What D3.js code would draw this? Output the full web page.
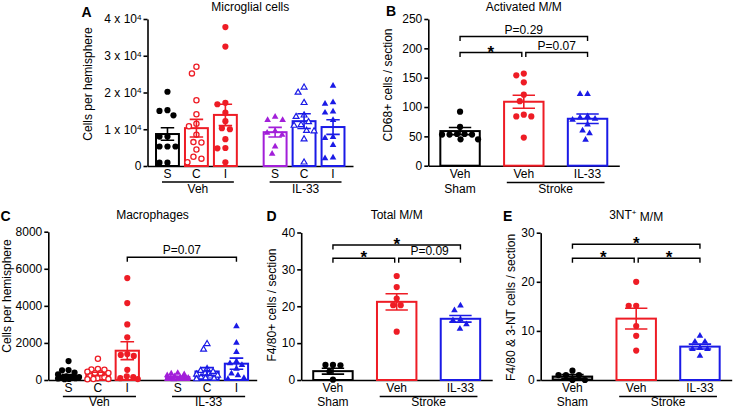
<!DOCTYPE html>
<html><head><meta charset="utf-8">
<script src="https://cdn.jsdelivr.net/npm/d3@7"></script>
<style>body{margin:0;background:#fff}</style>
</head><body>
<svg id="chart" width="734" height="408"></svg>
<script>
// ---------------- DATA ----------------
// Panel A: Microglial cells (cells per hemisphere)
const microGroups = ["Veh", "IL-33"];
const microSubs = ["S", "C", "I"];
const microMean = [8700, 10300, 13900, 9200, 12200, 10600];
const microSem  = [1700, 2400, 2900, 1300, 2000, 2000];
const microVehS = [20200, 15200, 15000, 13800, 8000, 8000, 5300, 5300, 5300, 900, 900];
const microVehC = [27000, 25200, 17900, 14100, 11500, 10800, 8500, 6500, 6400, 4500, 2500, 2000, 1000];
const microVehI = [37800, 32500, 17200, 16800, 14500, 12200, 10300, 10000, 7300, 4900, 4800, 1000];
const microIlS  = [13400, 12500, 12500, 9500, 9000, 8500, 5300, 3300];
const microIlC  = [21400, 20000, 17200, 13800, 13400, 12000, 11200, 11000, 9600, 9500, 7300, 1000];
const microIlI  = [21800, 17300, 16900, 14800, 14500, 12500, 7900, 7600, 5700, 2300, 2100];
const microTicks = [0, 10000, 20000, 30000, 40000];

// Panel B: Activated M/M (CD68+ cells / section)
const treatCats = ["Veh", "Veh", "IL-33"];
const condCats = ["Sham", "Stroke"];
const actMean = [59, 109, 80];
const actSem  = [6, 11, 8];
const actShamVeh   = [92, 66, 54, 54, 53, 53, 53, 45, 45];
const actStrokeVeh = [157, 154, 142, 121, 110, 87, 84, 84, 48];
const actStrokeIl  = [122, 122, 84, 82, 80, 78, 70, 60, 55, 44];
const actTicks = [0, 50, 100, 150, 200, 250];

// Panel C: Macrophages (cells per hemisphere)
const macMean = [210, 330, 1580, 160, 460, 880];
const macSem  = [80, 90, 480, 40, 210, 300];
const macVehS = [1020, 540, 520, 400, 300, 200, 160, 150, 130, 100, 80, 60, 40];
const macVehC = [1150, 600, 570, 550, 450, 380, 370, 360, 200, 150, 100, 60, 50, 40];
const macVehI = [5500, 4150, 3000, 2300, 1400, 1350, 1300, 550, 200, 150, 100, 50];
const macIlS  = [380, 350, 300, 250, 200, 150, 120, 100, 80, 60, 50, 40];
const macIlC  = [1950, 1650, 600, 500, 450, 350, 300, 250, 200, 150, 100, 80, 50];
const macIlI  = [2900, 2000, 1500, 1000, 900, 800, 600, 350, 250, 100, 50];
const macTicks = [0, 2000, 4000, 6000, 8000];

// Panel D: Total M/M (F4/80+ cells / section)
const totMean = [2.4, 21.2, 16.6];
const totSem  = [0.8, 2.2, 0.9];
const totShamVeh   = [4.1, 4.1, 4.0, 2.3, 0.1];
const totStrokeVeh = [28.2, 25.2, 22.1, 20.3, 20.3, 13.1];
const totStrokeIl  = [20.2, 18.9, 16.4, 16.2, 15.1, 13.9];
const totTicks = [0, 10, 20, 30, 40];

// Panel E: 3NT+ M/M (F4/80 & 3-NT cells / section)
const ntMean = [0.7, 12.5, 6.8];
const ntSem  = [0.4, 2.1, 0.5];
const ntShamVeh   = [1.9, 1.0, 1.0, 1.0, 0, 0];
const ntStrokeVeh = [20, 15.1, 15.1, 11, 9, 6];
const ntStrokeIl  = [9.0, 7.8, 7.8, 6.5, 6.3, 6.3, 4.9];
const ntTicks = [0, 10, 20, 30];

// ---------------- STYLE ----------------
const FONT = "'Liberation Sans', Arial, Helvetica, sans-serif";
const BLACK = "#000000", RED = "#ee1c25", BLUE = "#1a1ae6", PURPLE = "#a21fd9";
const svg = d3.select("#chart").attr("font-family", FONT);

// ---------------- HELPERS ----------------
function swarm(vals, y, d, lim) {
  const placed = [];
  const cands = [0];
  for (let o = 0.5; o <= lim + 1e-6; o += 0.5) { cands.push(-o, o); }
  const items = vals.map(v => ({ v, py: y(v) })).sort((a, b) => b.v - a.v);
  items.forEach(it => {
    let best = null, bestScore = -1;
    for (const c of cands) {
      let minD = Infinity;
      for (const p of placed) {
        const dd = Math.hypot(p.dx - c, p.py - it.py);
        if (dd < minD) minD = dd;
      }
      if (minD >= d) { best = c; bestScore = Infinity; break; }
      if (minD > bestScore) { bestScore = minD; best = c; }
    }
    it.dx = best;
    placed.push(it);
  });
  return items;
}

function drawMarker(g, mk, color, x, y) {
  if (mk === "circle") {
    g.append("circle").attr("cx", x).attr("cy", y).attr("r", 3.1).attr("fill", color);
  } else if (mk === "ocircle") {
    g.append("circle").attr("cx", x).attr("cy", y).attr("r", 2.6)
      .attr("fill", "#fff").attr("stroke", color).attr("stroke-width", 1.3);
  } else if (mk === "tri") {
    g.append("path").attr("d", d3.symbol().type(d3.symbolTriangle).size(19)())
      .attr("transform", `translate(${x},${y})`).attr("fill", color);
  } else {
    g.append("path").attr("d", d3.symbol().type(d3.symbolTriangle).size(15)())
      .attr("transform", `translate(${x},${y})`).attr("fill", "#fff")
      .attr("stroke", color).attr("stroke-width", 1.2);
  }
}

function drawSeries(g, s, cx, bw, y, d) {
  const y0 = y(0);
  g.append("rect")
    .attr("x", cx - bw / 2 + 1).attr("y", y(s.mean))
    .attr("width", bw - 2).attr("height", y0 - y(s.mean))
    .attr("fill", s.fill || "#fff").attr("stroke", s.color).attr("stroke-width", 2);
  const pts = swarm(s.pts, y, d, bw / 2 - 2);
  pts.forEach(p => drawMarker(g, s.mk, s.color, cx + p.dx, p.py));
  const cw = bw * 0.27;
  g.append("path")
    .attr("d", `M${cx - cw},${y(s.mean + s.sem)}H${cx + cw}M${cx},${y(s.mean + s.sem)}V${y(s.mean - s.sem)}M${cx - cw},${y(s.mean - s.sem)}H${cx + cw}`)
    .attr("fill", "none").attr("stroke", s.color).attr("stroke-width", 1.6);
}

function axes(g, L, y, fmt) {
  const ax = g.append("g").attr("transform", `translate(${L.x0},0)`)
    .call(d3.axisLeft(y).tickValues(L.ticks).tickSize(4).tickSizeOuter(0).tickPadding(2).tickFormat(fmt));
  ax.attr("font-family", FONT).attr("font-size", 12);
  ax.select(".domain").attr("stroke-width", 1.6);
  ax.selectAll(".tick line").attr("stroke-width", 1.6);
  ax.selectAll(".tick text").attr("fill", "#000");
  const xs = d3.scaleLinear().range([L.x0, L.x1]);
  const bx = g.append("g").attr("transform", `translate(0,${y(0)})`)
    .call(d3.axisBottom(xs).tickValues([]).tickSizeOuter(0));
  bx.select(".domain").attr("stroke-width", 1.6);
  return ax;
}

function titles(g, L, title, letter, ylabel) {
  g.append("text").attr("x", (L.x0 + L.x1) / 2).attr("y", L.titleY)
    .attr("text-anchor", "middle").attr("font-size", 12).text(title);
  g.append("text").attr("x", L.letterX).attr("y", L.titleY + (L.letterDy || 6))
    .attr("font-size", 14).attr("font-weight", "bold").text(letter);
  g.append("text").attr("transform", `translate(${L.ylabX},${L.ylabY}) rotate(-90)`)
    .attr("text-anchor", "middle").attr("font-size", 12).text(ylabel);
}

function bracket(g, x1, x2, yl, label, star) {
  g.append("path").attr("d", `M${x1},${yl + 4.5}V${yl}H${x2}V${yl + 4.5}`)
    .attr("fill", "none").attr("stroke", "#000").attr("stroke-width", 1.4);
  const t = g.append("text").attr("x", (x1 + x2) / 2).attr("text-anchor", "middle");
  if (star) t.attr("y", yl + 5).attr("font-size", 17).attr("font-weight", "bold").text("*");
  else t.attr("y", yl - 3).attr("font-size", 12).text(label);
}

// ---------- grouped panel (A, C) ----------
function groupedPanel(L, series, fmt, title, letter, ylabel, brackets) {
  const g = svg.append("g");
  const y = d3.scaleLinear().domain([0, L.max]).range([L.yBot, L.yTop]);
  const gx = d3.scaleBand().domain(microGroups).range([L.x0, L.x1]).paddingInner(0.193).paddingOuter(0.051);
  const sx = d3.scaleBand().domain(microSubs).range([0, gx.bandwidth()]).paddingInner(0.14).paddingOuter(0.07);
  const cx = (gr, sb) => gx(gr) + sx(sb) + sx.bandwidth() / 2;
  const ax = axes(g, L, y, fmt);
  series.forEach(s => drawSeries(g, s, cx(s.g, s.s), sx.bandwidth(), y, L.d));
  microGroups.forEach(gr => {
    microSubs.forEach(sb => {
      g.append("text").attr("x", cx(gr, sb)).attr("y", L.catY).attr("text-anchor", "middle")
        .attr("font-size", 12).text(sb);
    });
    const u0 = gx(gr) + 9, u1 = gx(gr) + gx.bandwidth() - 6;
    g.append("line").attr("x1", u0).attr("x2", u1).attr("y1", L.catY + 4.5).attr("y2", L.catY + 4.5)
      .attr("stroke", "#000").attr("stroke-width", 1.4);
    g.append("text").attr("x", (u0 + u1) / 2).attr("y", L.catY + L.cat2Dy).attr("text-anchor", "middle")
      .attr("font-size", 12).text(gr);
  });
  titles(g, L, title, letter, ylabel);
  brackets.forEach(b => bracket(g, cx(b.a[0], b.a[1]), cx(b.b[0], b.b[1]), b.yl, b.label, b.star));
  return ax;
}

// ---------- three-bar panel (B, D, E) ----------
const barKeys = ["shamVeh", "strokeVeh", "strokeIl"];
function threePanel(L, means, sems, ptsArr, title, letter, ylabel, brackets, shamFill) {
  const g = svg.append("g");
  const y = d3.scaleLinear().domain([0, L.max]).range([L.yBot, L.yTop]);
  const x = d3.scaleBand().domain(barKeys).range([L.x0, L.x1]).paddingInner(0.35).paddingOuter(0.173);
  const bw = x.bandwidth();
  const cx = k => x(k) + bw / 2;
  axes(g, L, y, d3.format("d"));
  const colors = [BLACK, RED, BLUE], mks = ["circle", "circle", "tri"];
  barKeys.forEach((k, i) => drawSeries(g, {
    mean: means[i], sem: sems[i], pts: ptsArr[i], color: colors[i], mk: mks[i],
    fill: i === 0 ? shamFill : "#fff"
  }, cx(k), bw, y, 7.5));
  barKeys.forEach((k, i) => {
    g.append("text").attr("x", cx(k)).attr("y", L.catY).attr("text-anchor", "middle")
      .attr("font-size", 12).text(treatCats[i]);
  });
  g.append("text").attr("x", cx(barKeys[0])).attr("y", L.catY + L.cat2Dy).attr("text-anchor", "middle")
    .attr("font-size", 12).text(condCats[0]);
  const u0 = cx(barKeys[1]) - 17, u1 = cx(barKeys[2]) + 17;
  g.append("line").attr("x1", u0).attr("x2", u1).attr("y1", L.catY + 4.5).attr("y2", L.catY + 4.5)
    .attr("stroke", "#000").attr("stroke-width", 1.4);
  g.append("text").attr("x", (u0 + u1) / 2).attr("y", L.catY + L.cat2Dy).attr("text-anchor", "middle")
    .attr("font-size", 12).text(condCats[1]);
  titles(g, L, title, letter, ylabel);
  brackets.forEach(b => {
    const x1 = cx(barKeys[b.a]) + (b.a === 1 ? 2 : 0);
    const x2 = cx(barKeys[b.b]) - (b.b === 1 ? 2 : 0);
    bracket(g, x1, x2, b.yl, b.label, b.star);
  });
  return g;
}

// ---------------- PANEL A ----------------
const axA = groupedPanel(
  { x0: 147.5, x1: 353, yTop: 19, yBot: 166, max: 40000, ticks: microTicks, d: 7.8,
    catY: 177.5, cat2Dy: 15, titleY: 11, letterX: 81.5, letterDy: 5.5, ylabX: 91.5, ylabY: 84 },
  [
    { g: "Veh", s: "S", mean: microMean[0], sem: microSem[0], pts: microVehS, color: BLACK, mk: "circle" },
    { g: "Veh", s: "C", mean: microMean[1], sem: microSem[1], pts: microVehC, color: RED, mk: "ocircle" },
    { g: "Veh", s: "I", mean: microMean[2], sem: microSem[2], pts: microVehI, color: RED, mk: "circle" },
    { g: "IL-33", s: "S", mean: microMean[3], sem: microSem[3], pts: microIlS, color: PURPLE, mk: "tri" },
    { g: "IL-33", s: "C", mean: microMean[4], sem: microSem[4], pts: microIlC, color: BLUE, mk: "otri" },
    { g: "IL-33", s: "I", mean: microMean[5], sem: microSem[5], pts: microIlI, color: BLUE, mk: "tri" }
  ], v => v, "Microglial cells", "A", "Cells per hemisphere", []);
// superscript tick labels: n x 10^4
axA.selectAll(".tick text").each(function (v) {
  const t = d3.select(this);
  if (v === 0) { t.text("0"); return; }
  t.text(null);
  t.append("tspan").text(`${v / 10000} x 10`);
  t.append("tspan").attr("dy", "-0.45em").attr("font-size", 8).text("4");
});

// ---------------- PANEL B ----------------
threePanel(
  { x0: 428.3, x1: 619.3, yTop: 19, yBot: 165.7, max: 250, ticks: actTicks,
    catY: 178, cat2Dy: 15, titleY: 11, letterX: 386, letterDy: 4.5, ylabX: 392, ylabY: 85 },
  actMean, actSem, [actShamVeh, actStrokeVeh, actStrokeIl],
  "Activated M/M", "B", "CD68+ cells / section",
  [ { a: 0, b: 2, yl: 36.5, label: "P=0.29" },
    { a: 0, b: 1, yl: 52.5, star: true },
    { a: 1, b: 2, yl: 52.5, label: "P=0.07" } ], "#fff");

// ---------------- PANEL C ----------------
groupedPanel(
  { x0: 48.3, x1: 256.7, yTop: 231.7, yBot: 380, max: 8000, ticks: macTicks, d: 6.5,
    catY: 392, cat2Dy: 13.5, titleY: 218.5, letterX: 0.5, letterDy: 2, ylabX: 10.5, ylabY: 296 },
  [
    { g: "Veh", s: "S", mean: macMean[0], sem: macSem[0], pts: macVehS, color: BLACK, mk: "circle" },
    { g: "Veh", s: "C", mean: macMean[1], sem: macSem[1], pts: macVehC, color: RED, mk: "ocircle" },
    { g: "Veh", s: "I", mean: macMean[2], sem: macSem[2], pts: macVehI, color: RED, mk: "circle" },
    { g: "IL-33", s: "S", mean: macMean[3], sem: macSem[3], pts: macIlS, color: PURPLE, mk: "tri" },
    { g: "IL-33", s: "C", mean: macMean[4], sem: macSem[4], pts: macIlC, color: BLUE, mk: "otri" },
    { g: "IL-33", s: "I", mean: macMean[5], sem: macSem[5], pts: macIlI, color: BLUE, mk: "tri" }
  ], d3.format("d"), "Macrophages", "C", "Cells per hemisphere",
  [ { a: ["Veh", "I"], b: ["IL-33", "I"], yl: 257.3, label: "P=0.07" } ]);

// ---------------- PANEL D ----------------
threePanel(
  { x0: 301.2, x1: 492.2, yTop: 232.5, yBot: 380, max: 40, ticks: totTicks,
    catY: 392, cat2Dy: 13.5, titleY: 219, letterX: 266.5, letterDy: 1.5, ylabX: 275.5, ylabY: 305 },
  totMean, totSem, [totShamVeh, totStrokeVeh, totStrokeIl],
  "Total M/M", "D", "F4/80+ cells / section",
  [ { a: 0, b: 2, yl: 245, star: true },
    { a: 0, b: 1, yl: 258.3, star: true },
    { a: 1, b: 2, yl: 258.3, label: "P=0.09" } ], "#fff");

// ---------------- PANEL E ----------------
const gE = threePanel(
  { x0: 540.7, x1: 731.7, yTop: 232.7, yBot: 380, max: 30, ticks: ntTicks,
    catY: 392, cat2Dy: 13.5, titleY: 219, letterX: 503, letterDy: 1.5, ylabX: 515, ylabY: 307.5 },
  ntMean, ntSem, [ntShamVeh, ntStrokeVeh, ntStrokeIl],
  "3NT", "E", "F4/80 & 3-NT cells / section",
  [ { a: 0, b: 2, yl: 244.3, star: true },
    { a: 0, b: 1, yl: 258.3, star: true },
    { a: 1, b: 2, yl: 258.3, star: true } ], "#8a8a8a");
// E title with superscript "+"
gE.selectAll("text").filter(function () { return d3.select(this).text() === "3NT"; })
  .each(function () {
    const t = d3.select(this);
    t.append("tspan").attr("dy", "-0.45em").attr("font-size", 8).text("+");
    t.append("tspan").attr("dy", "0.45em").text(" M/M");
  });
</script>
</body></html>
